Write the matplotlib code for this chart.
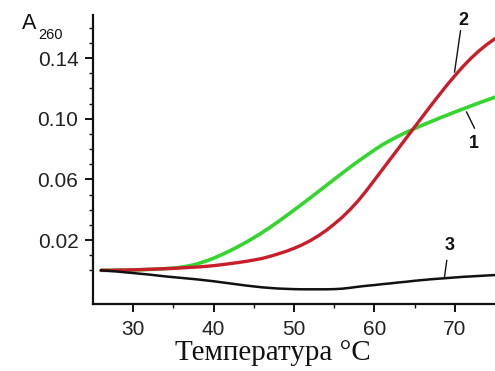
import matplotlib
matplotlib.use("Agg")
import matplotlib.pyplot as plt
from matplotlib.ticker import FixedLocator, FormatStrFormatter

# Temperature grid, °C (1-degree steps)
temperature = list(range(26, 76))

# Absorbance change at 260 nm for each sample
curve_1 = [0.0000, 0.0000, 0.0001, 0.0002, 0.0003, 0.0004, 0.0006, 0.0008,
           0.0011, 0.0015, 0.0021, 0.0030, 0.0043, 0.0060, 0.0080, 0.0103,
           0.0128, 0.0155, 0.0184, 0.0215, 0.0248, 0.0283, 0.0320, 0.0358,
           0.0397, 0.0437, 0.0477, 0.0518, 0.0559, 0.0600, 0.0641, 0.0681,
           0.0720, 0.0757, 0.0794, 0.0828, 0.0858, 0.0886, 0.0911, 0.0935,
           0.0958, 0.0980, 0.1002, 0.1023, 0.1044, 0.1064, 0.1084, 0.1104,
           0.1123, 0.1142]
curve_2 = [0.0000, 0.0000, 0.0001, 0.0002, 0.0003, 0.0005, 0.0007, 0.0009,
           0.0011, 0.0013, 0.0016, 0.0019, 0.0022, 0.0026, 0.0031, 0.0037,
           0.0044, 0.0051, 0.0059, 0.0068, 0.0078, 0.0092, 0.0108, 0.0125,
           0.0145, 0.0168, 0.0195, 0.0227, 0.0263, 0.0305, 0.0350, 0.0402,
           0.0460, 0.0525, 0.0595, 0.0665, 0.0735, 0.0805, 0.0875, 0.0945,
           0.1015, 0.1085, 0.1153, 0.1220, 0.1283, 0.1343, 0.1398, 0.1447,
           0.1490, 0.1528]
curve_3 = [0.0000, -0.0004, -0.0008, -0.0013, -0.0018, -0.0023, -0.0028,
           -0.0034, -0.0040, -0.0045, -0.0050, -0.0055, -0.0060, -0.0066,
           -0.0072, -0.0079, -0.0086, -0.0093, -0.0100, -0.0106, -0.0112,
           -0.0116, -0.0120, -0.0122, -0.0124, -0.0125, -0.0125, -0.0125,
           -0.0125, -0.0124, -0.0121, -0.0115, -0.0108, -0.0102, -0.0097,
           -0.0091, -0.0086, -0.0080, -0.0075, -0.0069, -0.0064, -0.0059,
           -0.0055, -0.0051, -0.0047, -0.0043, -0.0040, -0.0037, -0.0034,
           -0.0031]

x_major = [30, 40, 50, 60, 70]
x_minor = [35, 45, 55, 65]
y_major = [0.02, 0.06, 0.10, 0.14]
y_minor = [0.00, 0.01, 0.03, 0.04, 0.05, 0.07, 0.08, 0.09, 0.11, 0.12,
           0.13, 0.15, 0.16]

W, H = 495, 371
fig = plt.figure(figsize=(W / 100, H / 100), dpi=100)
ax = fig.add_axes([93 / W, (H - 304) / H, (W - 93) / W, 289 / H])

ax.plot(temperature, curve_1, color="#35d52f", lw=2.6, solid_capstyle="round",
        solid_joinstyle="round", zorder=2)
ax.plot(temperature, curve_2, color="#c91d2b", lw=2.4, solid_capstyle="round",
        solid_joinstyle="round", zorder=3)
ax.plot(temperature, curve_3, color="#111111", lw=1.8, solid_capstyle="round",
        solid_joinstyle="round", zorder=4)

ax.set_xlim(25, 75)
ax.set_ylim(-0.0222, 0.1684)

for side in ("top", "right"):
    ax.spines[side].set_visible(False)
for side in ("left", "bottom"):
    ax.spines[side].set_linewidth(1.6)
    ax.spines[side].set_color("#111111")

ax.xaxis.set_major_locator(FixedLocator(x_major))
ax.xaxis.set_minor_locator(FixedLocator(x_minor))
ax.yaxis.set_major_locator(FixedLocator(y_major))
ax.yaxis.set_minor_locator(FixedLocator(y_minor))
ax.yaxis.set_major_formatter(FormatStrFormatter("%.2f"))

tick_font = "Liberation Sans"
ax.tick_params(which="major", direction="out", length=5.5, width=1.4,
               labelsize=15, colors="#111111")
ax.tick_params(which="minor", direction="out", length=3, width=1.0, colors="#111111")
ax.tick_params(axis="x", which="major", pad=6)
ax.tick_params(axis="y", which="major", pad=5)
for lab in ax.get_xticklabels() + ax.get_yticklabels():
    lab.set_fontfamily(tick_font)
    lab.set_color("#222222")

# Curve numbers with leader lines
num_kw = dict(fontsize=13, fontweight="bold", fontfamily=tick_font,
              ha="center", va="center", color="#111111", clip_on=False)
ax.text(71.1, 0.1650, "2", **num_kw)
ax.plot([70.71, 69.97], [0.1580, 0.1308], color="#111111", lw=1.0, clip_on=False, zorder=5)
ax.text(72.4, 0.0835, "1", **num_kw)
ax.plot([71.46, 72.45], [0.1044, 0.0938], color="#111111", lw=1.0, zorder=5)
ax.text(69.3, 0.0165, "3", **num_kw)
ax.plot([69.0, 68.7], [0.0065, -0.0051], color="#111111", lw=1.0, zorder=5)

# Axis titles
fig.text(22 / W, (H - 29) / H, "A", fontsize=15.5, fontfamily=tick_font,
         ha="left", va="baseline", color="#111111")
fig.text(38 / W, (H - 39) / H, "260", fontsize=10.5, fontfamily=tick_font,
         ha="left", va="baseline", color="#111111")
fig.text(273 / W, (H - 360) / H, "Температура °C", fontsize=21,
         fontfamily="Liberation Serif", ha="center", va="baseline", color="#111111")

fig.savefig("out.png", dpi=100)
